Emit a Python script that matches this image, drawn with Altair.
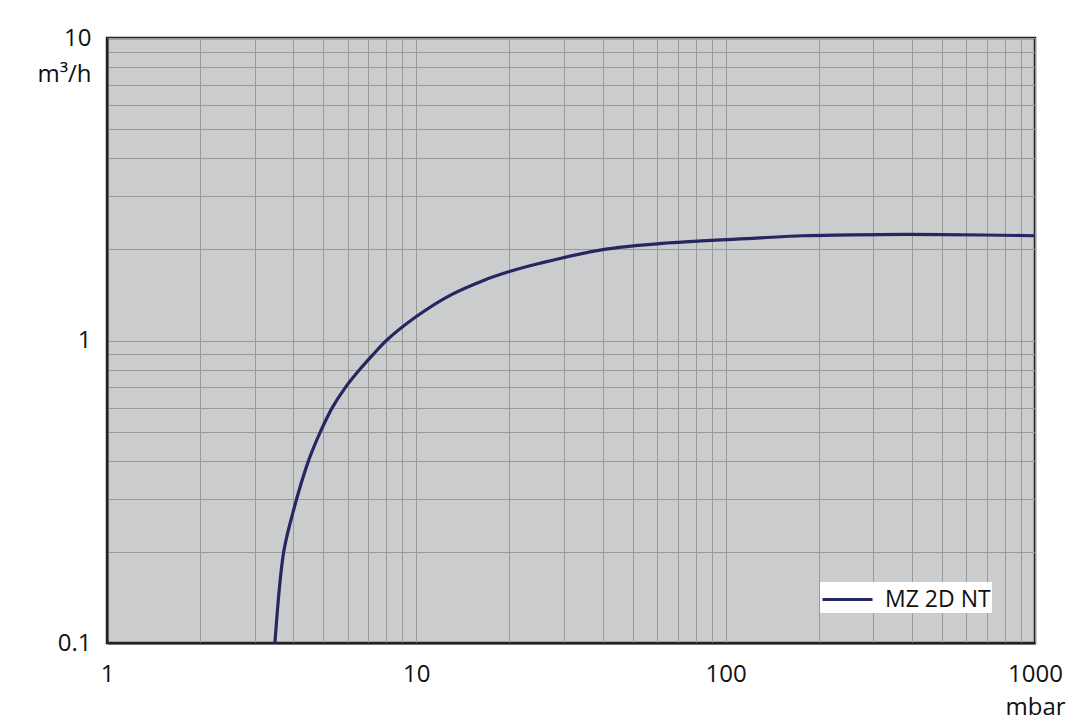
import altair as alt
import pandas as pd

# Pumping speed curve
pressure_mbar = [3.49, 3.72, 3.96, 4.48, 4.9, 5.35, 5.9, 6.55, 7.26, 8.0, 10.0,
                 12.85, 16.5, 20.0, 25.1, 39.3, 64.6, 126, 178, 316, 500, 1000]
speed_m3h = [0.100, 0.198, 0.262, 0.40, 0.50, 0.60, 0.70, 0.80, 0.90, 1.00, 1.20,
             1.41, 1.58, 1.69, 1.80, 1.99, 2.10, 2.18, 2.22, 2.24, 2.24, 2.22]
series_name = "MZ 2D NT"

x_grid = [m * 10 ** e for e in range(0, 3) for m in range(1, 10)] + [1000]
y_grid = [round(m * 10 ** e, 6) for e in (-1, 0) for m in range(1, 10)] + [10]

df = pd.DataFrame({"p": pressure_mbar, "s": speed_m3h, "series": series_name})

FONT = "Open Sans"
FS = 24

chart = alt.Chart(df).mark_line(strokeWidth=3.2, interpolate="catmull-rom", clip=True).encode(
    x=alt.X("p:Q", scale=alt.Scale(type="log", domain=[1, 1000], nice=False),
            axis=alt.Axis(values=x_grid, grid=True, ticks=False,
                          labelExpr="indexof(['1','10','100','1000'], format(datum.value, '')) >= 0 ? format(datum.value, '') : ''",
                          labelPadding=19, labelFontSize=FS, labelColor="#111",
                          labelFont=FONT, labelFlush=False, labelOverlap=False,
                          domainColor="#222", domainWidth=2,
                          gridColor="#999999", gridWidth=1,
                          title="mbar", titleFont=FONT, titleFontSize=FS,
                          titleFontWeight="normal", titleColor="#111",
                          titleAnchor="end", titleAlign="center",
                          titleX=928, titleY=71, titleBaseline="alphabetic")),
    y=alt.Y("s:Q", scale=alt.Scale(type="log", domain=[0.1, 10], nice=False),
            axis=alt.Axis(values=y_grid, grid=True, ticks=False,
                          labelExpr="datum.value == 0.1 ? '0.1' : (datum.value == 1 ? '1' : (datum.value == 10 ? '10' : ''))",
                          labelPadding=16, labelFontSize=FS, labelColor="#111",
                          labelFont=FONT, labelFlush=False, labelOverlap=False,
                          domainColor="#222", domainWidth=2,
                          gridColor="#999999", gridWidth=1,
                          title="m³/h", titleFont=FONT, titleFontSize=FS,
                          titleFontWeight="normal", titleColor="#111",
                          titleAngle=0, titleAlign="right", titleBaseline="middle",
                          titleX=-16, titleY=36)),
    color=alt.Color("series:N", scale=alt.Scale(range=["#262661"]),
                    legend=alt.Legend(title=None, orient="none", legendX=713, legendY=544,
                                      fillColor="white", padding=1,
                                      symbolType="M-1,0H2.333", symbolSize=900,
                                      symbolStrokeWidth=3, symbolStrokeColor="#262661",
                                      labelFont=FONT, labelFontSize=23, labelColor="#111",
                                      labelOffset=31)),
).properties(
    width=928, height=605,
    padding={"left": 99, "top": 30, "right": 37, "bottom": 78},
    autosize=alt.AutoSizeParams(type="none"),
).configure_view(
    fill="#caccce", stroke="#222222", strokeWidth=2.5
)

chart.save("out.html", embed_options={"renderer": "svg", "actions": False})
